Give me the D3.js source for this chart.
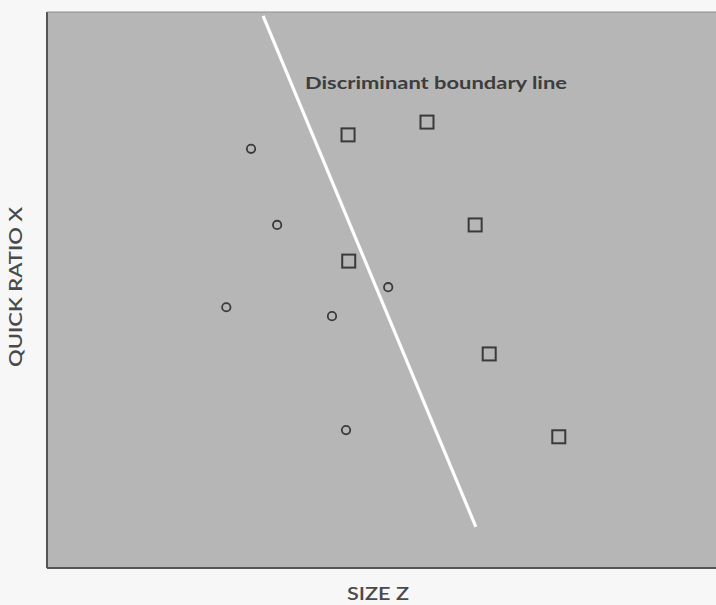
<!DOCTYPE html>
<html>
<head>
<meta charset="utf-8">
<script src="https://cdn.jsdelivr.net/npm/d3@7"></script>
<style>
  html, body { margin: 0; padding: 0; background: #f7f7f7; }
  svg { display: block; }
</style>
</head>
<body>
<svg id="chart" width="716" height="605"></svg>
<script>
// Firms on the "fail" side of the boundary (circles) and the "sound" side (squares)
const circleSize  = [3.05, 3.44, 2.68, 4.26, 5.10, 4.47];
const circleRatio = [7.54, 6.17, 4.69, 4.53, 5.05, 2.48];
const squareSize  = [4.50, 5.68, 6.40, 4.51, 6.61, 7.65];
const squareRatio = [7.79, 8.02, 6.17, 5.52, 3.85, 2.36];
// Discriminant boundary line endpoints (size, ratio)
const boundarySize  = [3.23, 6.41];
const boundaryRatio = [9.93, 0.74];

const xLabel = "SIZE Z";
const yLabel = "QUICK RATIO X";
const boundaryLabel = "Discriminant boundary line";

const svg = d3.select("#chart");
const panel = { left: 47, top: 12, right: 716, bottom: 568 };

const x = d3.scaleLinear().domain([0, 10]).range([panel.left, panel.right]);
const y = d3.scaleLinear().domain([0, 10]).range([panel.bottom, panel.top]);

const font = "'Lato', 'Open Sans', 'DejaVu Sans', sans-serif";

// Gray plotting panel
svg.append("rect")
  .attr("x", panel.left).attr("y", panel.top)
  .attr("width", panel.right - panel.left).attr("height", panel.bottom - panel.top)
  .attr("fill", "#b6b6b6");

// Panel edges: left and bottom heavier, top hairline
svg.append("line")
  .attr("x1", panel.left).attr("x2", panel.left)
  .attr("y1", panel.top).attr("y2", panel.bottom)
  .attr("stroke", "#555").attr("stroke-width", 2);
svg.append("line")
  .attr("x1", panel.left).attr("x2", panel.right)
  .attr("y1", panel.bottom).attr("y2", panel.bottom)
  .attr("stroke", "#555").attr("stroke-width", 2);
svg.append("line")
  .attr("x1", panel.left).attr("x2", panel.right)
  .attr("y1", panel.top).attr("y2", panel.top)
  .attr("stroke", "#8a8a8a").attr("stroke-width", 1);

// Boundary line
const boundary = boundarySize.map((s, i) => [s, boundaryRatio[i]]);
svg.append("path")
  .attr("d", d3.line().x(d => x(d[0])).y(d => y(d[1]))(boundary))
  .attr("stroke", "#ffffff").attr("stroke-width", 3.2).attr("fill", "none");

// Circles
svg.selectAll("circle.pt")
  .data(circleSize.map((s, i) => ({ s, r: circleRatio[i] })))
  .join("circle")
  .attr("class", "pt")
  .attr("cx", d => x(d.s)).attr("cy", d => y(d.r))
  .attr("r", 4.2)
  .attr("fill", "none").attr("stroke", "#3a3a3a").attr("stroke-width", 1.8);

// Squares
const side = 13;
svg.selectAll("rect.pt")
  .data(squareSize.map((s, i) => ({ s, r: squareRatio[i] })))
  .join("rect")
  .attr("class", "pt")
  .attr("x", d => x(d.s) - side / 2).attr("y", d => y(d.r) - side / 2)
  .attr("width", side).attr("height", side)
  .attr("fill", "none").attr("stroke", "#3a3a3a").attr("stroke-width", 2);

// Boundary label
svg.append("text")
  .attr("x", 305).attr("y", 89)
  .attr("font-family", font).attr("font-weight", 700).attr("font-size", 17)
  .attr("fill", "#3d3d3d")
  .attr("textLength", 262).attr("lengthAdjust", "spacingAndGlyphs")
  .text(boundaryLabel);

// Axis titles
svg.append("text")
  .attr("x", 347).attr("y", 600)
  .attr("font-family", font).attr("font-weight", 600).attr("font-size", 18)
  .attr("fill", "#4a4a4a")
  .attr("textLength", 62).attr("lengthAdjust", "spacingAndGlyphs")
  .text(xLabel);

svg.append("text")
  .attr("transform", "translate(22,287) rotate(-90)")
  .attr("text-anchor", "middle")
  .attr("font-family", font).attr("font-weight", 600).attr("font-size", 18)
  .attr("fill", "#4a4a4a")
  .attr("textLength", 160).attr("lengthAdjust", "spacingAndGlyphs")
  .text(yLabel);
</script>
</body>
</html>
